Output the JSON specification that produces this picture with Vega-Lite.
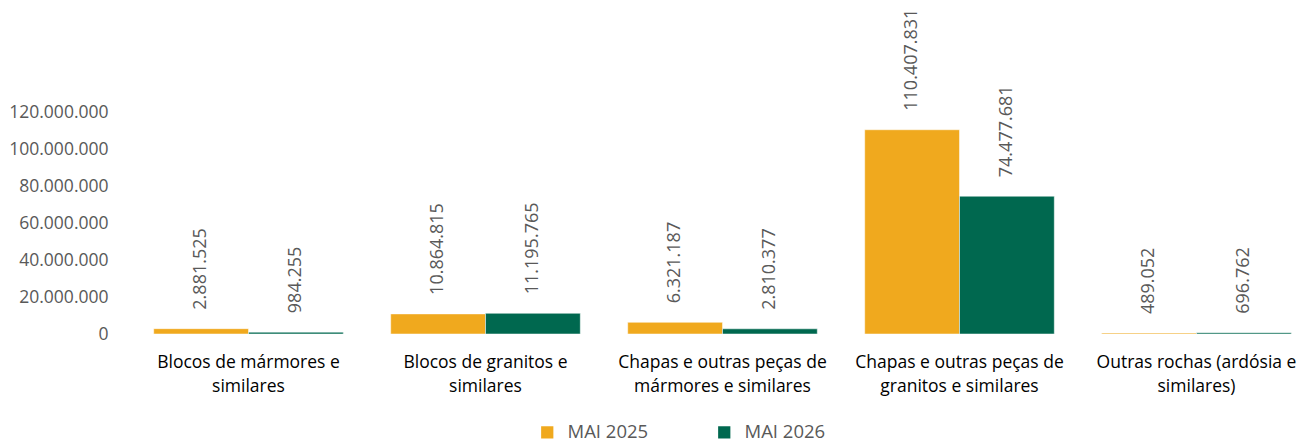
{
  "$schema": "https://vega.github.io/schema/vega-lite/v6.json",
  "autosize": {"type": "none"},
  "padding": {"left": 130, "top": 112, "right": 0, "bottom": 111},
  "width": 1185,
  "height": 222,
  "background": "white",
  "config": {
    "view": {"stroke": null},
    "font": "Open Sans",
    "locale": {"number": {"decimal": ",", "thousands": ".", "grouping": [3], "currency": ["", ""]}}
  },
  "data": {
    "values": [
      {"categoria": "Blocos de mármores e|similares", "periodo": "MAI 2025", "valor": 2881525},
      {"categoria": "Blocos de mármores e|similares", "periodo": "MAI 2026", "valor": 984255},
      {"categoria": "Blocos de granitos e|similares", "periodo": "MAI 2025", "valor": 10864815},
      {"categoria": "Blocos de granitos e|similares", "periodo": "MAI 2026", "valor": 11195765},
      {"categoria": "Chapas e outras peças de|mármores e similares", "periodo": "MAI 2025", "valor": 6321187},
      {"categoria": "Chapas e outras peças de|mármores e similares", "periodo": "MAI 2026", "valor": 2810377},
      {"categoria": "Chapas e outras peças de|granitos e similares", "periodo": "MAI 2025", "valor": 110407831},
      {"categoria": "Chapas e outras peças de|granitos e similares", "periodo": "MAI 2026", "valor": 74477681},
      {"categoria": "Outras rochas (ardósia e|similares)", "periodo": "MAI 2025", "valor": 489052},
      {"categoria": "Outras rochas (ardósia e|similares)", "periodo": "MAI 2026", "valor": 696762}
    ]
  },
  "encoding": {
    "x": {
      "field": "categoria",
      "type": "nominal",
      "sort": null,
      "scale": {"paddingInner": 0.2, "paddingOuter": 0.1},
      "axis": {
        "title": null,
        "labelAngle": 0,
        "domain": false,
        "ticks": false,
        "labelPadding": 28,
        "labelFontSize": 17.5,
        "labelColor": "#000000",
        "labelLineHeight": 24,
        "labelBaseline": "middle",
        "labelLimit": 0,
        "labelExpr": "split(datum.label, '|')"
      }
    },
    "xOffset": {"field": "periodo", "type": "nominal", "sort": ["MAI 2025", "MAI 2026"]},
    "y": {
      "field": "valor",
      "type": "quantitative",
      "scale": {"domain": [0, 120000000], "nice": false},
      "axis": {
        "title": null,
        "values": [0, 20000000, 40000000, 60000000, 80000000, 100000000, 120000000],
        "format": ",d",
        "domain": false,
        "ticks": false,
        "tickSize": 0,
        "grid": false,
        "labelPadding": 22,
        "labelFontSize": 17.5,
        "labelColor": "#595959"
      }
    }
  },
  "layer": [
    {
      "mark": {"type": "bar", "stroke": "white", "strokeWidth": 0.5},
      "encoding": {
        "color": {
          "field": "periodo",
          "type": "nominal",
          "scale": {"domain": ["MAI 2025", "MAI 2026"], "range": ["#F0A91E", "#00684F"]},
          "legend": {
            "title": null,
            "orient": "none",
            "legendX": 408,
            "legendY": 311,
            "direction": "horizontal",
            "symbolType": "square",
            "symbolSize": 150,
            "symbolStrokeWidth": 0,
            "labelFontSize": 18.5,
            "labelColor": "#595959",
            "columnPadding": 66,
            "labelOffset": 11
          }
        }
      }
    },
    {
      "mark": {"type": "text", "angle": 270, "align": "left", "baseline": "middle", "dx": 19, "fontSize": 18, "color": "#595959"},
      "encoding": {
        "text": {"field": "valor", "type": "quantitative", "format": ",d"}
      }
    }
  ]
}
